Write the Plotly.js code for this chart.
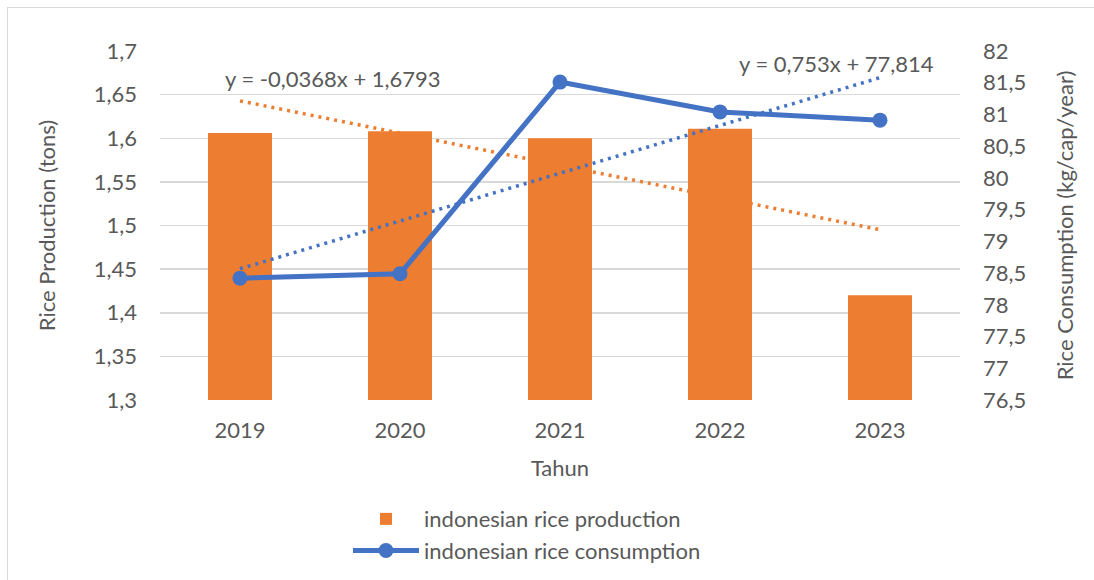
<!DOCTYPE html>
<html>
<head>
<meta charset="utf-8">
<script src="https://cdn.plot.ly/plotly-3.0.1.min.js"></script>
<style>
html,body{margin:0;padding:0;background:#fff;overflow:hidden;}
#chart{width:1094px;height:620px;}
#frame{position:absolute;left:7px;top:7px;width:1200px;height:700px;border-left:1.5px solid #d9d9d9;border-top:1.5px solid #d9d9d9;pointer-events:none;}
</style>
</head>
<body>
<div id="chart"></div>
<div id="frame"></div>
<script>
// ---- data ----
const years = ['2019', '2020', '2021', '2022', '2023'];
const production = [1.606, 1.608, 1.600, 1.611, 1.420];
const consumption = [78.42, 78.49, 81.51, 81.04, 80.91];
const leftTicks = [1.3, 1.35, 1.4, 1.45, 1.5, 1.55, 1.6, 1.65, 1.7];
const leftTickText = ['1,3', '1,35', '1,4', '1,45', '1,5', '1,55', '1,6', '1,65', '1,7'];
const rightTicks = [76.5, 77, 77.5, 78, 78.5, 79, 79.5, 80, 80.5, 81, 81.5, 82];
const rightTickText = ['76,5', '77', '77,5', '78', '78,5', '79', '79,5', '80', '80,5', '81', '81,5', '82'];
const prodEquation = 'y = -0,0368x + 1,6793';
const consEquation = 'y = 0,753x + 77,814';

// linear least-squares trend over x = 1..n (Excel style)
function trend(vals) {
  const n = vals.length;
  const xs = vals.map((_, i) => i + 1);
  const mx = xs.reduce((a, b) => a + b, 0) / n;
  const my = vals.reduce((a, b) => a + b, 0) / n;
  let sxy = 0, sxx = 0;
  for (let i = 0; i < n; i++) { sxy += (xs[i] - mx) * (vals[i] - my); sxx += (xs[i] - mx) ** 2; }
  const m = sxy / sxx, b = my - m * mx;
  return xs.map(x => m * x + b);
}

const ORANGE = '#ED7D31';
const BLUE = '#4472C4';
const GREY = '#595959';
const FONT = 'Lato, "Open Sans", sans-serif';
const FS = 22;

const traces = [
  {
    type: 'bar', x: years, y: production, name: 'indonesian rice production',
    marker: {color: ORANGE}, width: 0.4, yaxis: 'y', hoverinfo: 'x+y'
  },
  {
    type: 'scatter', mode: 'lines', x: years, y: trend(production), yaxis: 'y',
    line: {color: ORANGE, width: 3.5, dash: '3px,5px'}, showlegend: false, hoverinfo: 'skip'
  },
  {
    type: 'scatter', mode: 'lines+markers', x: years, y: consumption, yaxis: 'y2',
    name: 'indonesian rice consumption',
    line: {color: BLUE, width: 5}, marker: {color: BLUE, size: 15}
  },
  {
    type: 'scatter', mode: 'lines', x: years, y: trend(consumption), yaxis: 'y2',
    line: {color: BLUE, width: 3.5, dash: '3px,5px'}, showlegend: false, hoverinfo: 'skip'
  }
];

const layout = {
  width: 1094, height: 620,
  margin: {l: 160, r: 134, t: 51, b: 220},
  paper_bgcolor: '#fff', plot_bgcolor: '#fff',
  font: {family: FONT, size: FS, color: GREY},
  xaxis: {
    type: 'category', showgrid: false, zeroline: false, showline: false,
    ticks: '', ticklabelstandoff: 15, tickfont: {size: FS, color: GREY},
    title: {text: 'Tahun', font: {size: FS, color: GREY}, standoff: 18},
    automargin: false
  },
  yaxis: {
    range: [1.3, 1.7], tickmode: 'array', tickvals: leftTicks, ticktext: leftTickText,
    showgrid: true, gridcolor: '#d9d9d9', gridwidth: 1.5, zeroline: false, showline: false,
    ticks: '', ticklabelstandoff: 22, tickfont: {size: FS, color: GREY},
    title: {text: 'Rice Production (tons)', font: {size: FS, color: GREY}, standoff: 32},
    automargin: false
  },
  yaxis2: {
    overlaying: 'y', side: 'right', range: [76.5, 82], tickmode: 'array',
    tickvals: rightTicks, ticktext: rightTickText, showgrid: false, zeroline: false,
    showline: false, ticks: '', ticklabelstandoff: 22, tickfont: {size: FS, color: GREY},
    title: {text: 'Rice Consumption (kg/cap/year)', font: {size: FS, color: GREY}, standoff: 32},
    automargin: false
  },
  legend: {
    orientation: 'v', x: 0.235, xanchor: 'left', y: -0.281, yanchor: 'top',
    font: {size: FS, color: GREY}, itemwidth: 66, tracegroupgap: 0,
    bgcolor: 'rgba(0,0,0,0)'
  },
  annotations: [
    {xref: 'x', yref: 'y', x: 0.58, y: 1.668, text: prodEquation, showarrow: false,
     xanchor: 'center', yanchor: 'middle', font: {size: FS, color: GREY}},
    {xref: 'x', yref: 'y2', x: 3.73, y: 81.8, text: consEquation, showarrow: false,
     xanchor: 'center', yanchor: 'middle', font: {size: FS, color: GREY}}
  ]
};

Plotly.newPlot('chart', traces, layout, {displayModeBar: false, staticPlot: true});
</script>
</body>
</html>
